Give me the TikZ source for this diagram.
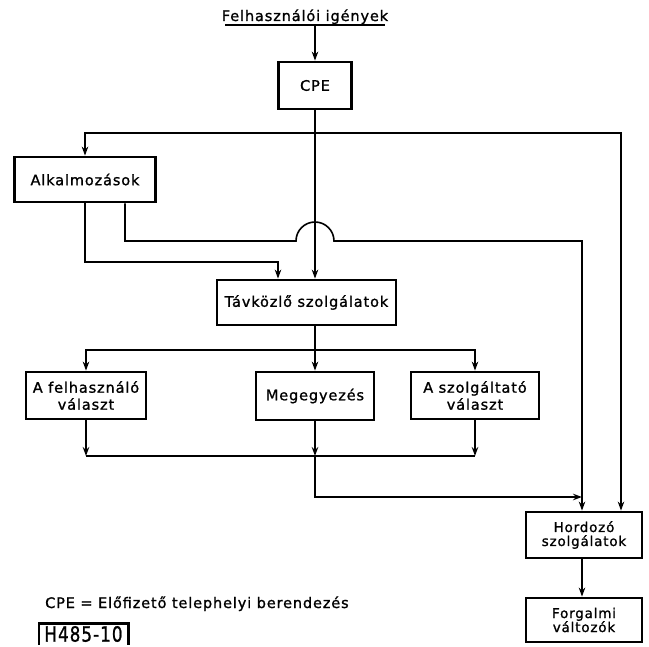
\documentclass[tikz,border=0pt]{standalone}
\usepackage{fontspec}
\setmainfont{DejaVu Sans}[LetterSpace=6, FakeBold=1.2]
\usetikzlibrary{arrows.meta}

\begin{document}
\begin{tikzpicture}[x=1pt, y=-1pt,
  blokk/.style={draw, line width=2.8pt, align=center, inner sep=2pt,
    font=\fontsize{14.5}{17}\selectfont},
  kisblokk/.style={blokk, font=\fontsize{13.5}{14}\selectfont},
  vonal/.style={line width=1.6pt},
  nyil/.style={vonal, -{Stealth[length=9pt, width=6.5pt]}}]

\useasboundingbox (0,0) rectangle (649,647);

% Felhasznaloi igenyek
\node[anchor=base, inner sep=0pt, font=\fontsize{14.5}{17}\selectfont] (igeny) at (305,21) {Felhasználói igények};
\coordinate (igeny_bal) at (225,25);
\coordinate (igeny_jobb) at (385,25);
\coordinate (igeny_ki) at (315,25);
\draw[vonal] (igeny_bal) -- (igeny_jobb);

% Blocks
\node[blokk, minimum width=73pt, minimum height=47pt] (cpe_box) at (315,85.5) {CPE};
\node[blokk, minimum width=141pt, minimum height=45pt] (alk_box) at (85,179.5) {Alkalmozások};
\node[blokk, minimum width=179pt, minimum height=45pt] (tav_box) at (306.5,302.5) {Távközlő szolgálatok};
\node[blokk, minimum width=120pt, minimum height=47pt] (fel_box) at (86,395.5) {A felhasználó\\választ};
\node[blokk, minimum width=118pt, minimum height=48pt] (meg_box) at (315,396) {Megegyezés};
\node[blokk, minimum width=128pt, minimum height=47pt] (szo_box) at (475,395.5) {A szolgáltató\\választ};
\node[kisblokk, minimum width=116pt, minimum height=46pt] (hor_box) at (584,535) {Hordozó\\szolgálatok};
\node[kisblokk, minimum width=116pt, minimum height=44pt] (for_box) at (584,620) {Forgalmi\\változók};

% Input to CPE
\draw[nyil] (igeny_ki) -- (cpe_box.north);

% CPE distribution
\coordinate (felso) at (315,133);
\coordinate (hor_be1) at ([xshift=-2pt]hor_box.north);
\coordinate (hor_be2) at ([xshift=37pt]hor_box.north);
\draw[nyil] (cpe_box.south) -- (cpe_box.south |- tav_box.north);
\draw[nyil] (felso) -| (alk_box.north);
\draw[nyil] (felso) -| (hor_be2);

% Alkalmozasok outputs
\coordinate (alk_tav) at (85,262);
\coordinate (tav_be1) at ([xshift=-28.5pt]tav_box.north);
\draw[nyil] (alk_box.south) -- (alk_tav) -| (tav_be1);
\coordinate (alk_ki2) at ([xshift=40pt]alk_box.south);
\coordinate (ugras) at (296,241);
\draw[nyil] (alk_ki2) |- (ugras) arc[start angle=180, end angle=0, radius=19pt] -| (hor_be1);

% Tavkozlo branches
\coordinate (elag) at (315,350);
\draw[vonal] (tav_box.south -| cpe_box.south) -- (elag);
\draw[nyil] (elag) -| (fel_box.north);
\draw[nyil] (elag) -- (meg_box.north);
\draw[nyil] (elag) -| (szo_box.north);

% Collect
\coordinate (gyujt) at (315,456);
\draw[nyil] (fel_box.south) -- (fel_box.south |- gyujt);
\draw[nyil] (meg_box.south) -- (gyujt);
\draw[nyil] (szo_box.south) -- (szo_box.south |- gyujt);
\draw[vonal] (fel_box.south |- gyujt) -- (szo_box.south |- gyujt);
\coordinate (also) at (315,497);
\draw[nyil] (gyujt) -- (also) -- (hor_be1 |- also);

% Hordozo to Forgalmi
\draw[nyil] (hor_be1 |- hor_box.south) -- (hor_be1 |- for_box.north);

% Legend
\node[anchor=base west, inner sep=0pt, font=\fontsize{14.5}{17}\selectfont] (jelmagy) at (45,608) {CPE = Előfizető telephelyi berendezés};
\node[inner sep=0pt, minimum width=89pt, minimum height=21pt, font=\fontsize{21}{22}\selectfont] (azon) at (83.5,634) {\scalebox{0.8}[1]{H485-10}};
\draw[line width=2.6pt] (azon.south west) -- (azon.north west) -- (azon.north east) -- (azon.south east);

\end{tikzpicture}
\end{document}
